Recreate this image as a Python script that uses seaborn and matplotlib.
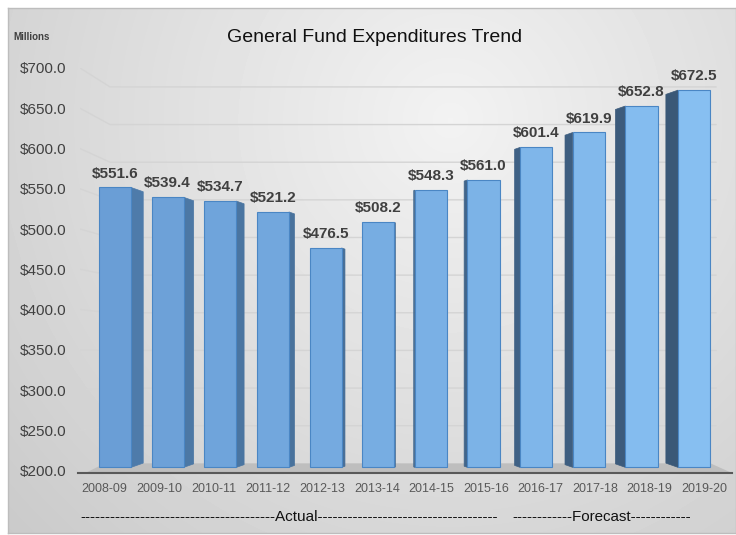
import matplotlib
matplotlib.use('Agg')
import matplotlib.pyplot as plt
import seaborn as sns
import numpy as np
from matplotlib.patches import Polygon, Rectangle

# data
years = ['2008-09', '2009-10', '2010-11', '2011-12', '2012-13', '2013-14',
         '2014-15', '2015-16', '2016-17', '2017-18', '2018-19', '2019-20']
spending = [551.6, 539.4, 534.7, 521.2, 476.5, 508.2,
            548.3, 561.0, 601.4, 619.9, 652.8, 672.5]
y_ticks = [200, 250, 300, 350, 400, 450, 500, 550, 600, 650, 700]
title = 'General Fund Expenditures Trend'
unit_label = 'Millions'
actual_label = 'Actual'
forecast_label = 'Forecast'

sns.set_style('white')
plt.rcParams['font.family'] = ['Liberation Sans', 'DejaVu Sans']

W, H = 736, 535
fig = plt.figure(figsize=(W / 100, H / 100), dpi=100)

# grey radial background with a thin frame
bg = fig.add_axes([8 / W, 2 / H, 728 / W, 525 / H])
yy, xx = np.mgrid[0:525, 0:728]
r = np.hypot(xx - 442, yy - 112) / 650
bg.imshow(0.95 - 0.17 * r, cmap='gray', vmin=0, vmax=1, aspect='auto')
bg.set_xticks([])
bg.set_yticks([])
for s in bg.spines.values():
    s.set_color('#BDBDBD')
    s.set_linewidth(1)

ax = fig.add_axes([80 / W, 62 / H, 652 / W, 405 / H])
ax.patch.set_alpha(0)

front_pal = sns.blend_palette(['#6A9ED6', '#87BFF1'], len(years))
side_pal = sns.blend_palette(['#4E7BAA', '#3A5877'], len(years))

sns.barplot(x=years, y=spending, hue=years, palette=front_pal, legend=False,
            saturation=1, width=0.61, edgecolor='#4A86C4', linewidth=0.8,
            ax=ax, zorder=3)

bars = sorted([p for p in ax.patches if isinstance(p, Rectangle)], key=lambda p: p.get_x())

ymin = 197
base = 204  # bars stand on the floor a bit behind the axis line
for p in bars:
    top = p.get_y() + p.get_height()
    p.set_y(base)
    p.set_height(top - base)

xl, xr = -0.665, 11.72
ax.set_xlim(xl, xr)
ax.set_ylim(ymin, 700)

# perspective gridlines (front -> back wall)
def back(v):
    return 209 + (v - 200) * 0.935

for t in y_ticks[1:]:
    ax.plot([xl, xl + 0.57, xr - 0.3], [t, back(t), back(t)],
            color='#D4D4D4', lw=1, zorder=1)

# floor
ax.add_patch(Polygon([(xl + 0.1, ymin), (xl + 0.475, back(200)), (11.31, back(200)), (xr, ymin)],
                     closed=True, facecolor='#BEBEBE', edgecolor='none', zorder=1.5))

# side faces for a 3d look
n = len(years)
for i, p in enumerate(bars):
    off = 0.042 * ((n - 1) / 2 - i)
    dy = abs(off) * 52.6 * 0.35 / 0.805
    top = p.get_y() + p.get_height()
    edge = p.get_x() + p.get_width() if off > 0 else p.get_x()
    ax.add_patch(Polygon([(edge, base), (edge, top), (edge + off, top - dy), (edge + off, base + dy)],
                         closed=True, facecolor=side_pal[i], edgecolor=side_pal[i],
                         lw=0.5, zorder=2.9))

for p, v in zip(bars, spending):
    ax.annotate(f'${v:.1f}', (p.get_x() + p.get_width() / 2, v), xytext=(0, 5),
                textcoords='offset points', ha='center', va='bottom',
                fontsize=11, fontweight='bold', color='#404040', zorder=5)

ax.set_yticks(y_ticks)
ax.set_yticklabels([f'${t:.1f}' for t in y_ticks])
# category labels spread a little wider than the bars (perspective)
ax.set_xticks([-0.199 + i * 1.0352 for i in range(n)])
ax.set_xticklabels(years)
ax.tick_params(axis='y', length=0, pad=10, labelsize=11, labelcolor='#404040')
ax.tick_params(axis='x', length=0, pad=7, labelsize=9, labelcolor='#595959')
ax.set_xlabel('')
ax.set_ylabel('')
for side in ['left', 'right', 'top']:
    ax.spines[side].set_visible(False)
ax.spines['bottom'].set_bounds(xl - 0.04, xr)
ax.spines['bottom'].set_color('#595959')
ax.spines['bottom'].set_linewidth(1.5)
ax.spines['bottom'].set_zorder(4)

fig.text(375 / W, 1 - 38 / H, title, ha='center', va='center', fontsize=14, color='#111111')
fig.text(13 / W, 1 - 37 / H, unit_label, ha='left', va='center', fontsize=7,
         fontweight='bold', color='#404040')
fig.text(80 / W, 1 - 517 / H, '-' * 39 + actual_label + '-' * 36, ha='left', va='center',
         fontsize=11, color='#111111')
fig.text(512 / W, 1 - 517 / H, '-' * 12 + forecast_label + '-' * 12, ha='left', va='center',
         fontsize=10.9, color='#111111')

fig.savefig('out.png', dpi=100)
plt.close(fig)
